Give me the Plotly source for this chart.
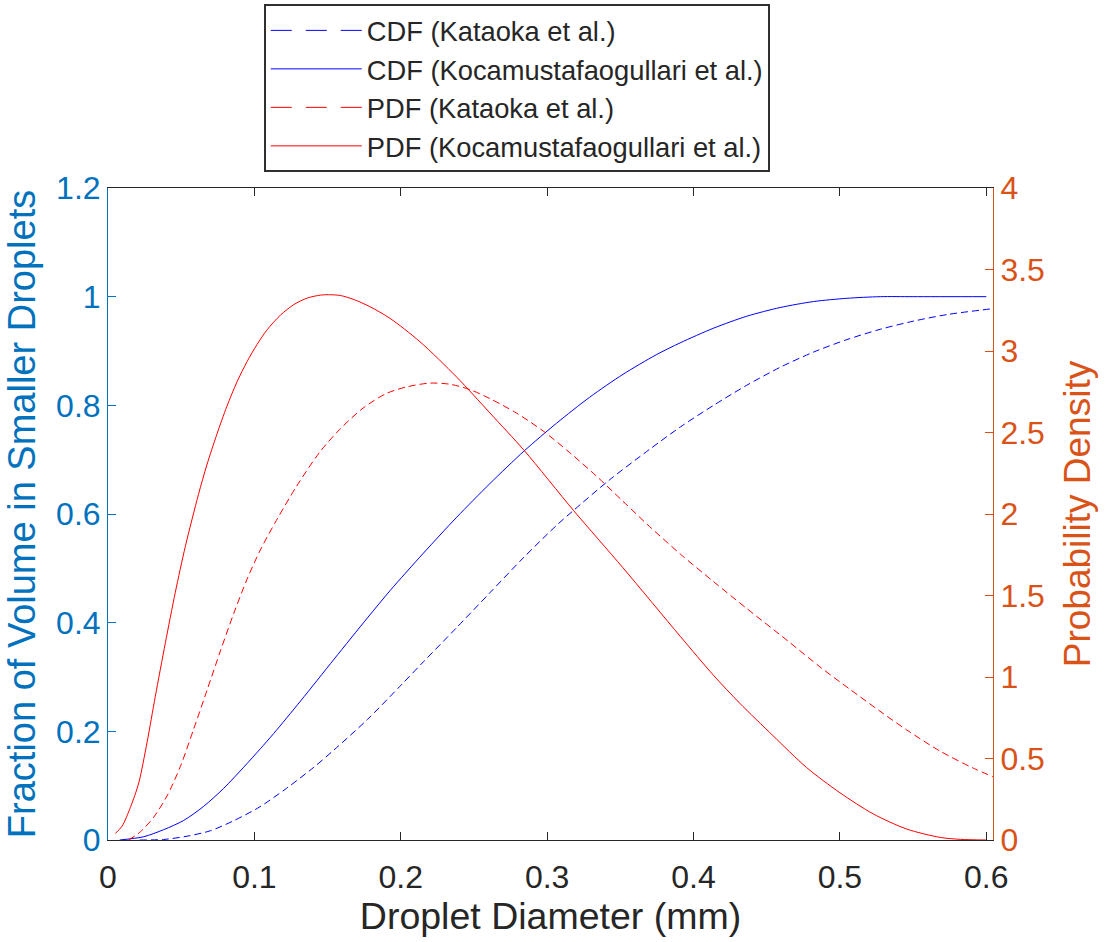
import plotly.graph_objects as go

# Droplet diameter (mm) and distribution values for each correlation
koca_pdf_x = [0.005, 0.0096, 0.0153, 0.021, 0.0267, 0.0323, 0.0392, 0.046, 0.0528, 0.0618,
              0.0675, 0.0744, 0.0812, 0.0881, 0.095, 0.1018, 0.1087, 0.1178, 0.127, 0.1362,
              0.1453, 0.1522, 0.159, 0.1682, 0.1789, 0.1927, 0.2131, 0.2382, 0.2609,
              0.2843, 0.3182, 0.3518, 0.3909, 0.4137, 0.4315, 0.4543, 0.4772, 0.5, 0.5228,
              0.5457, 0.5685, 0.5822, 0.6]
koca_pdf_y = [0.04, 0.085, 0.20, 0.35, 0.60, 0.88, 1.21, 1.52, 1.80, 2.12,
              2.30, 2.49, 2.66, 2.81, 2.935, 3.04, 3.13, 3.22, 3.285, 3.325,
              3.343, 3.345, 3.34, 3.315, 3.272, 3.20, 3.057, 2.84, 2.62,
              2.39, 2.02, 1.67, 1.25, 1.01, 0.84, 0.64, 0.445, 0.29, 0.16,
              0.067, 0.016, 0.004, 0.0]

kataoka_pdf_x = [0.0141, 0.0221, 0.0312, 0.0403, 0.0494, 0.0585, 0.0677, 0.0768, 0.0859, 0.095,
                 0.1041, 0.115, 0.1288, 0.1447, 0.1584, 0.1743, 0.1903, 0.2041, 0.22, 0.2336,
                 0.2473, 0.2609, 0.2791, 0.2973, 0.3155, 0.3336, 0.3518, 0.37, 0.3909, 0.4137,
                 0.4364, 0.4646, 0.4874, 0.5068, 0.5274, 0.5457, 0.5685, 0.5913, 0.6046]
kataoka_pdf_y = [0.0, 0.05, 0.14, 0.27, 0.45, 0.68, 0.92, 1.16, 1.39, 1.60,
                 1.78, 1.96, 2.17, 2.38, 2.52, 2.65, 2.74, 2.78, 2.803, 2.796,
                 2.763, 2.708, 2.619, 2.509, 2.376, 2.233, 2.078, 1.923, 1.755, 1.585,
                 1.42, 1.22, 1.055, 0.925, 0.79, 0.675, 0.545, 0.44, 0.388]

koca_cdf_x = [0.008, 0.0244, 0.038, 0.0517, 0.0654, 0.079, 0.0927, 0.1041, 0.1132, 0.1316,
              0.1545, 0.1773, 0.1927, 0.2155, 0.2382, 0.2609, 0.2843, 0.3064, 0.3291, 0.3518,
              0.3745, 0.3909, 0.4137, 0.4364, 0.4592, 0.482, 0.5048, 0.5276, 0.55, 0.6]
koca_cdf_y = [0.0, 0.006, 0.019, 0.036, 0.062, 0.095, 0.134, 0.168, 0.196, 0.256,
              0.333, 0.409, 0.459, 0.528, 0.594, 0.656, 0.716, 0.767, 0.815, 0.857,
              0.893, 0.915, 0.942, 0.964, 0.980, 0.991, 0.997, 1.0, 1.0, 1.0]

kataoka_cdf_x = [0.0217, 0.038, 0.054, 0.0699, 0.0855, 0.1037, 0.1219, 0.1402, 0.1545, 0.1773,
                 0.2002, 0.2155, 0.2382, 0.2609, 0.2836, 0.3064, 0.3182, 0.3427, 0.37, 0.3909,
                 0.4137, 0.4364, 0.4592, 0.482, 0.5048, 0.5276, 0.5503, 0.5731, 0.6046]
kataoka_cdf_y = [0.0, 0.001, 0.007, 0.017, 0.035, 0.061, 0.095, 0.133, 0.166, 0.222,
                 0.285, 0.328, 0.391, 0.455, 0.519, 0.579, 0.607, 0.663, 0.719, 0.760,
                 0.800, 0.837, 0.870, 0.898, 0.921, 0.940, 0.955, 0.967, 0.978]

x_ticks = [0, 0.1, 0.2, 0.3, 0.4, 0.5, 0.6]
x_tick_text = ["0", "0.1", "0.2", "0.3", "0.4", "0.5", "0.6"]
left_ticks = [0, 0.2, 0.4, 0.6, 0.8, 1.0, 1.2]
left_tick_text = ["0", "0.2", "0.4", "0.6", "0.8", "1", "1.2"]
right_ticks = [0, 0.5, 1, 1.5, 2, 2.5, 3, 3.5, 4]
right_tick_text = ["0", "0.5", "1", "1.5", "2", "2.5", "3", "3.5", "4"]

legend_names = ["CDF (Kataoka et al.)", "CDF (Kocamustafaogullari et al.)",
                "PDF (Kataoka et al.)", "PDF (Kocamustafaogullari et al.)"]

FONT = "Liberation Sans, Arial, Helvetica, sans-serif"
BLUE_AX = "#0072BD"
ORANGE_AX = "#D95319"
DARK = "#262626"
PLOT_DASH = "7px,4px"
KEY_DASH = "21px,14px"

series = [
    (kataoka_cdf_x, kataoka_cdf_y, "#0000FF", PLOT_DASH, "y"),
    (koca_cdf_x, koca_cdf_y, "#0000FF", "solid", "y"),
    (kataoka_pdf_x, kataoka_pdf_y, "#FF0000", PLOT_DASH, "y2"),
    (koca_pdf_x, koca_pdf_y, "#FF0000", "solid", "y2"),
]

fig = go.Figure()
for (xs, ys, color, dash, yax), name in zip(series, legend_names):
    fig.add_trace(go.Scatter(
        x=xs, y=ys, mode="lines", yaxis=yax, name=name, showlegend=False,
        line=dict(color=color, width=1, dash=dash, shape="spline", smoothing=0.8),
        hoverinfo="skip",
    ))

# legend keys with longer dashes
for (xs, ys, color, dash, yax), name in zip(series, legend_names):
    fig.add_trace(go.Scatter(
        x=[None], y=[None], mode="lines", yaxis=yax, name=name,
        line=dict(color=color, width=1, dash=KEY_DASH if dash != "solid" else "solid"),
    ))

fig.update_layout(
    width=1107, height=942,
    margin=dict(l=108, r=114, t=188, b=102, autoexpand=False),
    paper_bgcolor="white", plot_bgcolor="white",
    font=dict(family=FONT, color=DARK),
    showlegend=True,
    legend=dict(
        x=0.176, y=1.282, xanchor="left", yanchor="top",
        bgcolor="white", bordercolor="#303030", borderwidth=2,
        font=dict(family=FONT, size=27.3, color=DARK),
        itemwidth=91, tracegroupgap=0,
    ),
    xaxis=dict(
        range=[0, 0.6046], tickvals=x_ticks, ticktext=x_tick_text,
        ticks="inside", ticklen=8, tickwidth=1, tickcolor=DARK,
        showline=True, linecolor=DARK, linewidth=1, mirror="ticks",
        showgrid=False, zeroline=False, ticklabelstandoff=9,
        tickfont=dict(family=FONT, size=32, color=DARK),
        title=dict(text="Droplet Diameter (mm)", font=dict(family=FONT, size=37.5, color=DARK), standoff=8),
    ),
    yaxis=dict(
        range=[0, 1.2], tickvals=left_ticks, ticktext=left_tick_text,
        ticks="inside", ticklen=8, tickwidth=1, tickcolor=BLUE_AX,
        showline=True, linecolor=BLUE_AX, linewidth=1,
        showgrid=False, zeroline=False,
        tickfont=dict(family=FONT, size=32, color=BLUE_AX),
        title=dict(text="Fraction of Volume in Smaller Droplets",
                   font=dict(family=FONT, size=38, color=BLUE_AX), standoff=8),
    ),
    yaxis2=dict(
        range=[0, 4], tickvals=right_ticks, ticktext=right_tick_text,
        overlaying="y", side="right", anchor="x",
        ticks="inside", ticklen=8, tickwidth=1, tickcolor=ORANGE_AX,
        showline=True, linecolor=ORANGE_AX, linewidth=1,
        showgrid=False, zeroline=False,
        tickfont=dict(family=FONT, size=32, color=ORANGE_AX),
        title=dict(text="Probability Density",
                   font=dict(family=FONT, size=37, color=ORANGE_AX), standoff=20),
    ),
)

fig.write_html("out.html")
